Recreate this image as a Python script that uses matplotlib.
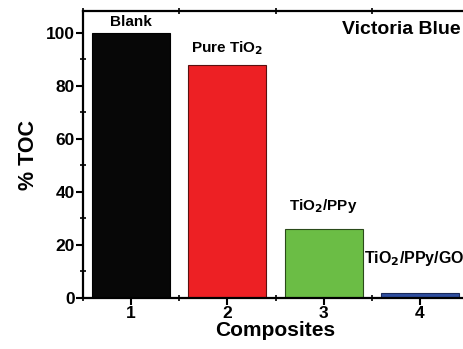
import matplotlib.pyplot as plt
from matplotlib.ticker import MultipleLocator

plt.rcParams['font.family'] = ['Liberation Sans', 'DejaVu Sans']
plt.rcParams['font.weight'] = 'bold'
plt.rcParams['mathtext.default'] = 'bf'

composites = [1, 2, 3, 4]
toc = [100, 88, 26, 2]
names = ['Blank', 'Pure TiO$_2$', 'TiO$_2$/PPy', 'TiO$_2$/PPy/GO']
colors = ['#070707', '#ED2024', '#6BBD45', '#2E4D9E']
edges = ['#000000', '#5a1010', '#2a4a1a', '#1a2a5a']

fig = plt.figure(figsize=(4.64, 3.49), dpi=100)
# the original is cropped on the right, so the axes run past the figure edge
ax = fig.add_axes([83 / 464, 51 / 349, 385 / 464, 287 / 349])

ax.bar(composites, toc, width=0.81, color=colors, edgecolor=edges, linewidth=0.8)
ax.set_xlim(0.5, 4.5)
ax.set_ylim(0, 108.3)

# bar labels
ax.text(1, 101.5, names[0], ha='center', va='bottom', fontsize=11, fontweight='bold')
ax.text(2, 91, names[1], ha='center', va='bottom', fontsize=11, fontweight='bold')
ax.text(3, 31.5, names[2], ha='center', va='bottom', fontsize=11, fontweight='bold')
ax.text(3.42, 11.5, names[3], ha='left', va='bottom', fontsize=11.5, fontweight='bold',
        clip_on=False)
ax.text(0.98, 0.965, 'Victoria Blue', transform=ax.transAxes, ha='right', va='top',
        fontsize=14, fontweight='bold')

ax.set_xticks(composites)
ax.xaxis.set_minor_locator(MultipleLocator(0.5))
ax.yaxis.set_major_locator(MultipleLocator(20))
ax.yaxis.set_minor_locator(MultipleLocator(10))
ax.tick_params(which='major', direction='out', length=5, width=1.5, labelsize=12.5)
ax.tick_params(which='minor', direction='inout', length=4, width=1.2, top=True)
ax.tick_params(axis='x', which='major', pad=1)
ax.tick_params(axis='y', which='major', pad=1)
for side in ['left', 'bottom', 'top', 'right']:
    ax.spines[side].set_linewidth(1.6)

ax.set_xlabel('Composites', fontsize=15, fontweight='bold', labelpad=0)
ax.set_ylabel('% TOC', fontsize=15.5, fontweight='bold', labelpad=5)

fig.savefig('out.png', dpi=100)
